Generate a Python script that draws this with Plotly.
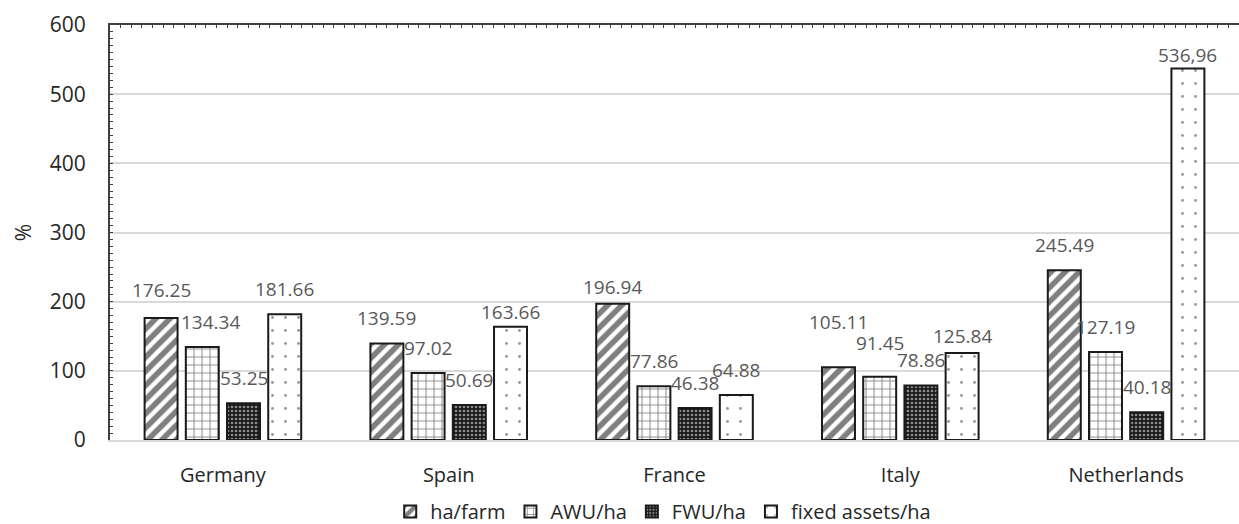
import plotly.graph_objects as go

# Countries on the category axis
countries = ["Germany", "Spain", "France", "Italy", "Netherlands"]

# Indicator values (%) per country
ha_farm = [176.25, 139.59, 196.94, 105.11, 245.49]
awu_ha = [134.34, 97.02, 77.86, 91.45, 127.19]
fwu_ha = [53.25, 50.69, 46.38, 78.86, 40.18]
fixed_assets_ha = [181.66, 163.66, 64.88, 125.84, 536.96]

series_names = ["ha/farm", "AWU/ha", "FWU/ha", "fixed assets/ha"]
series_values = [ha_farm, awu_ha, fwu_ha, fixed_assets_ha]

# y-axis ticks
y_ticks = [0, 100, 200, 300, 400, 500, 600]

# Fill patterns per series
patterns = [
    dict(shape="/", fgcolor="#000000", bgcolor="white", size=10, solidity=0.55),
    dict(shape="+", fgcolor="#222222", bgcolor="white", size=8, solidity=0.25),
    dict(shape=".", fgcolor="white", bgcolor="#1a1a1a", size=4, solidity=0.35),
    dict(shape=".", fgcolor="#333333", bgcolor="white", size=13, solidity=0.04),
]

# Label nudges (px) for crowded labels: (country, series) -> (dx, dy)
label_nudges = {
    ("Germany", "AWU/ha"): (8, 0),
    ("Germany", "ha/farm"): (0, 3),
    ("Italy", "ha/farm"): (0, 20),
    ("Italy", "AWU/ha"): (0, 9),
    ("Italy", "fixed assets/ha"): (0, -8),
    ("Spain", "fixed assets/ha"): (0, -10),
    ("France", "ha/farm"): (0, -8),
    ("Netherlands", "fixed assets/ha"): (0, -11),
}

FONT = "Open Sans"
W, H = 1239, 524
M_L, M_R, M_T, M_B = 110, 0, 25, 84
BARGAP = 0.27

fig = go.Figure()
for name, vals, pat in zip(series_names, series_values, patterns):
    fig.add_trace(go.Bar(
        name=name,
        x=countries,
        y=vals,
        marker=dict(color="white", pattern=pat,
                    line=dict(color="#1a1a1a", width=2)),
        hoverinfo="x+y+name",
    ))

# Empty trace so the top frame axis gets drawn
fig.add_trace(go.Scatter(x=[], y=[], xaxis="x2", showlegend=False,
                         hoverinfo="skip"))

# Value labels above each bar, shifted onto the bar's slot in its group
plot_w = W - M_L - M_R
slot_px = plot_w / len(countries) * (1 - BARGAP) / len(series_names)
annotations = []
for k, (name, vals) in enumerate(zip(series_names, series_values)):
    for country, v in zip(countries, vals):
        label = f"{v:.2f}"
        if country == "Netherlands" and name == "fixed assets/ha":
            label = label.replace(".", ",")
        dx, dy = label_nudges.get((country, name), (0, 0))
        annotations.append(dict(
            x=country, y=v, xref="x", yref="y",
            text=label, showarrow=False,
            xshift=(k - 1.5) * slot_px + dx, yshift=25 + dy,
            yanchor="middle", xanchor="center",
            font=dict(family=FONT, size=19, color="#595959"),
        ))

fig.update_layout(
    width=W, height=H,
    margin=dict(l=M_L, r=M_R, t=M_T, b=M_B, autoexpand=False),
    paper_bgcolor="white", plot_bgcolor="white",
    barmode="group", bargap=BARGAP, bargroupgap=0.2,
    font=dict(family=FONT, size=20, color="#404040"),
    annotations=annotations,
    showlegend=True,
    legend=dict(orientation="h", x=0.49, xanchor="center",
                y=-0.125, yanchor="top",
                font=dict(family=FONT, size=20, color="#262626"),
                itemwidth=30, tracegroupgap=0),
    xaxis=dict(
        type="category", showline=True, linecolor="#d9d9d9", linewidth=2,
        ticks="", showgrid=False, ticklabelstandoff=16,
        tickfont=dict(family=FONT, size=20, color="#262626"),
    ),
    yaxis=dict(
        range=[0, 600], tickvals=y_ticks, showgrid=True,
        gridcolor="#d9d9d9", gridwidth=1.5, zeroline=False,
        showline=True, linecolor="#404040", linewidth=2,
        ticks="inside", ticklen=3, tickcolor="#404040",
        minor=dict(dtick=10, ticks="inside", ticklen=3,
                   tickcolor="#404040", showgrid=False),
        ticklabelstandoff=18,
        tickfont=dict(family=FONT, size=21, color="#262626"),
        title=dict(text="%", standoff=12,
                   font=dict(family=FONT, size=21, color="#262626")),
    ),
    xaxis2=dict(
        overlaying="x", side="top", anchor="y", range=[0, 1],
        showline=True, linecolor="#404040", linewidth=2,
        ticks="inside", ticklen=3, tickcolor="#404040",
        dtick=1 / 106, showticklabels=False, showgrid=False,
        zeroline=False, fixedrange=True,
    ),
)

fig.write_html("out.html")
